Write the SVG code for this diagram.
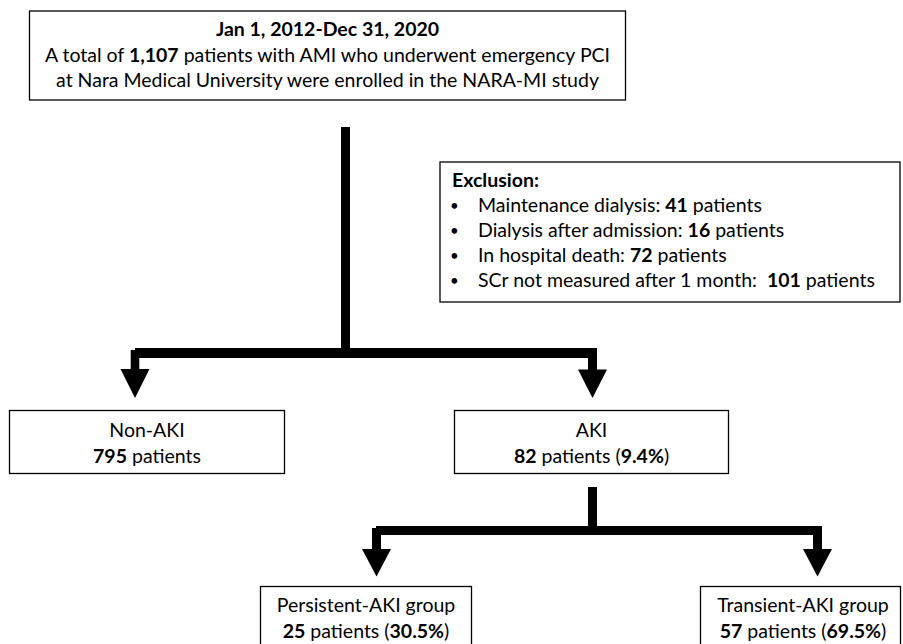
<svg xmlns="http://www.w3.org/2000/svg" width="903" height="644" viewBox="0 0 903 644">
<style>
  .box { fill: #ffffff; stroke: #000000; stroke-width: 1.3; }
  .t { font-family: Lato, "Open Sans", "Liberation Sans", sans-serif; font-size: 19.5px; fill: #000000; }
  .c { text-anchor: middle; }
  .b { font-weight: bold; }
  .bul { font-size: 15px; }
  .line { stroke: #000000; fill: none; stroke-linecap: butt; }
  .head { fill: #000000; }
</style>
<rect width="903" height="644" fill="#ffffff"/>
<g id="connectors">
  <line class="line" x1="345.5" y1="127" x2="345.5" y2="353" stroke-width="9"/>
  <line class="line" x1="135" y1="353" x2="597" y2="353" stroke-width="10"/>
  <line class="line" x1="135" y1="350" x2="135" y2="371" stroke-width="8.6"/>
  <polygon class="head" points="120.5,369 149.5,369 135,398"/>
  <line class="line" x1="592.5" y1="350" x2="592.5" y2="371" stroke-width="9"/>
  <polygon class="head" points="578,369.5 607,369.5 592.5,398"/>
  <line class="line" x1="592.5" y1="487" x2="592.5" y2="531" stroke-width="9"/>
  <line class="line" x1="376" y1="530.5" x2="822" y2="530.5" stroke-width="9"/>
  <line class="line" x1="376.5" y1="528" x2="376.5" y2="551" stroke-width="9"/>
  <polygon class="head" points="362,549 391,549 376.5,576.5"/>
  <line class="line" x1="817.5" y1="528" x2="817.5" y2="551" stroke-width="9"/>
  <polygon class="head" points="803,549 832,549 817.5,576.5"/>
</g>
<g id="enrolled">
  <rect class="box" x="29.5" y="11" width="596" height="89"/>
  <text class="t c b" x="327.5" y="36">Jan 1, 2012-Dec 31, 2020</text>
  <text class="t c" x="327.5" y="61.5">A total of <tspan class="b">1,107</tspan> patients with AMI who underwent emergency PCI</text>
  <text class="t c" x="327.5" y="87">at Nara Medical University were enrolled in the NARA-MI study</text>
</g>
<g id="exclusion">
  <rect class="box" x="440" y="162" width="460" height="140"/>
  <text class="t b" x="452" y="187">Exclusion:</text>
  <text class="t bul" x="450" y="211">•</text>
  <text class="t" x="478" y="212">Maintenance dialysis: <tspan class="b">41</tspan> patients</text>
  <text class="t bul" x="450" y="236">•</text>
  <text class="t" x="478" y="237">Dialysis after admission: <tspan class="b">16</tspan> patients</text>
  <text class="t bul" x="450" y="261">•</text>
  <text class="t" x="478" y="262">In hospital death: <tspan class="b">72</tspan> patients</text>
  <text class="t bul" x="450" y="286">•</text>
  <text class="t" x="478" y="287" xml:space="preserve">SCr not measured after 1 month:  <tspan class="b">101</tspan> patients</text>
</g>
<g id="non-aki">
  <rect class="box" x="9.5" y="410.5" width="275" height="63"/>
  <text class="t c" x="147" y="437">Non-AKI</text>
  <text class="t c" x="147" y="463"><tspan class="b">795</tspan> patients</text>
</g>
<g id="aki">
  <rect class="box" x="454.5" y="410.5" width="274" height="63"/>
  <text class="t c" x="591.5" y="437">AKI</text>
  <text class="t c" x="591.5" y="463"><tspan class="b">82</tspan> patients (<tspan class="b">9.4%</tspan>)</text>
</g>
<g id="persistent">
  <rect class="box" x="260.5" y="586.5" width="211" height="70"/>
  <text class="t c" x="366" y="612">Persistent-AKI group</text>
  <text class="t c" x="366" y="638"><tspan class="b">25</tspan> patients (<tspan class="b">30.5%</tspan>)</text>
</g>
<g id="transient">
  <rect class="box" x="700.5" y="586.5" width="200" height="70"/>
  <text class="t c" x="803" y="612">Transient-AKI group</text>
  <text class="t c" x="803" y="638"><tspan class="b">57</tspan> patients (<tspan class="b">69.5%</tspan>)</text>
</g>
</svg>
